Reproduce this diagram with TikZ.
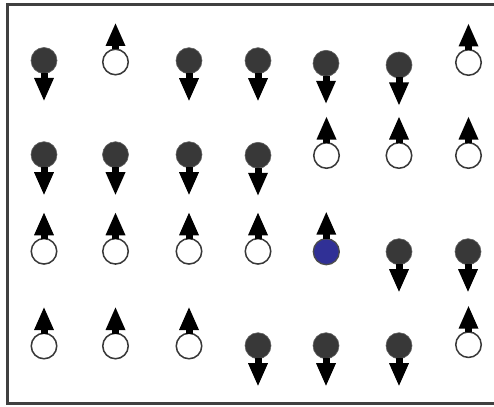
\documentclass[tikz,border=0pt]{standalone}
\usetikzlibrary{arrows.meta}
\definecolor{spinfill}{RGB}{56,56,56}
\definecolor{framecol}{RGB}{64,64,64}
\definecolor{holeblue}{RGB}{48,48,150}
\tikzset{
  dn/.style={circle,fill=spinfill,draw=spinfill!80!white,line width=0.6pt,minimum size=26pt,inner sep=0pt},
  up/.style={circle,fill=white,draw=spinfill,line width=1.5pt,minimum size=25.5pt,inner sep=0pt},
  blue/.style={circle,fill=holeblue,draw=spinfill!90!white,line width=1.3pt,minimum size=26pt,inner sep=0pt},
  spinarrow/.style={line width=7pt,black,shorten <=-1pt,-{Triangle[length=23.5pt 0 0,width=18pt 0 0]}}
}
\begin{document}
\begin{tikzpicture}[x=1pt,y=-1pt]
\useasboundingbox (0,0) rectangle (494,406);
\fill[white] (0,0) rectangle (494,406);
\draw[framecol,line width=3pt] (500,4.3) -- (7.5,4.3) -- (7.5,403.5) -- (500,403.5);
\foreach \n/\x/\y/\t/\d in {
  a1/44/60.5/dn/41, a2/115.5/62/up/-39.5, a3/189/60.7/dn/41, a4/258/60.7/dn/41, a5/326/63.3/dn/41, a6/399/65/dn/41, a7/468.5/62.5/up/-39.5,
  b1/44/154.7/dn/41, b2/115.5/154.7/dn/41, b3/189/154.7/dn/41, b4/258/155.3/dn/41, b5/326.5/155.5/up/-39.5, b6/399/155.5/up/-39.5, b7/468.5/155.5/up/-39.5,
  c1/44/251.3/up/-39.5, c2/115.5/251.3/up/-39.5, c3/189/251.3/up/-39.5, c4/258/251.3/up/-39.5, c5/326.3/251.7/blue/-40.5, c6/399/251.7/dn/41, c7/468/251.7/dn/41,
  d1/44/346/up/-39.5, d2/115.5/346/up/-39.5, d3/189/346/up/-39.5, d4/258/345.7/dn/41, d5/326/345.7/dn/41, d6/399/345.7/dn/41, d7/468.5/344.7/up/-39.5}
{
  \node[\t] (\n) at (\x,\y) {};
  \coordinate (\n tip) at (\x,\y+\d);
  \draw[spinarrow] (\n) -- (\n tip);
}
\end{tikzpicture}
\end{document}
